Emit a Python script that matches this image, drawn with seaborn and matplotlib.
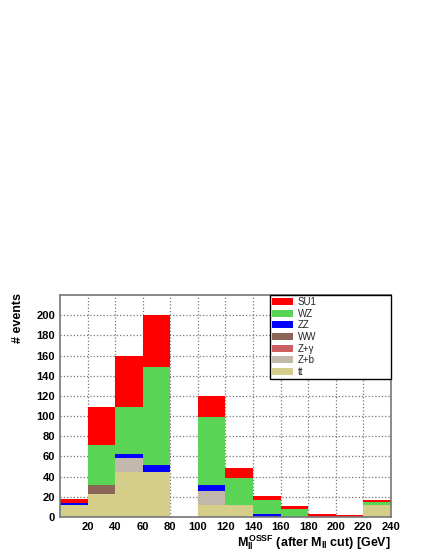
import numpy as np
import pandas as pd
import matplotlib
matplotlib.use('Agg')
import matplotlib.pyplot as plt
from matplotlib.patches import Patch
import seaborn as sns

# bin edges in M_ll (GeV), 20 GeV wide
edges = np.arange(0, 260, 20)
centres = edges[:-1] + 10

# events per bin and process
su1 = [4, 38, 50.5, 50.7, 0, 21.4, 9.5, 4, 3.3, 2.5, 1.5, 2.6]
wz = [0, 40, 47, 97, 0, 67.3, 27, 13.7, 7.5, 0, 0, 2.6]
zz = [1.5, 0, 4.5, 7, 0, 6, 0, 3, 0, 0, 0, 0]
ww = [0, 8.5, 0, 0, 0, 0, 0, 0, 0, 0, 0, 0]
zgamma = [0, 0, 0, 0, 0, 0, 0, 0, 0, 0, 0, 0]
zb = [0, 0, 13, 0, 0, 13.8, 0, 0, 0, 0, 0, 0]
tt = [12, 23, 45, 45, 0, 11.8, 11.8, 0, 0, 0, 0, 11.8]

processes = ['SU1', 'WZ', 'ZZ', 'WW', 'Z+γ', 'Z+b', 'tt']
values = [su1, wz, zz, ww, zgamma, zb, tt]
colours = ['#ff0000', '#59d454', '#0000ff', '#8b6656', '#cc6060', '#c2b8ac', '#d5cd8a']

df = pd.DataFrame({
    'mll': np.tile(centres, len(processes)).astype(float),
    'events': np.concatenate(values).astype(float),
    'process': np.repeat(processes, len(centres)),
})

sns.set_style('white')
plt.rcParams['font.family'] = ['Liberation Sans', 'DejaVu Sans']
plt.rcParams['text.color'] = 'black'
plt.rcParams['xtick.color'] = 'black'
plt.rcParams['ytick.color'] = 'black'
plt.rcParams['axes.labelcolor'] = 'black'
plt.rcParams['mathtext.fontset'] = 'custom'
plt.rcParams['mathtext.rm'] = 'Liberation Sans:bold'
plt.rcParams['mathtext.bf'] = 'Liberation Sans:bold'
plt.rcParams['mathtext.it'] = 'Liberation Sans:bold'

fig = plt.figure(figsize=(4.31, 5.57), dpi=100)
ax = fig.add_axes([60/431, 1 - 517/557, 331/431, 222/557])

sns.histplot(data=df, x='mll', weights='events', hue='process',
             hue_order=processes, palette=dict(zip(processes, colours)),
             multiple='stack', binwidth=20, binrange=(0, 240), linewidth=0,
             alpha=1, legend=False, ax=ax)

ax.set_xlim(0, 240)
ax.set_ylim(0, 220)
ax.set_xticks(np.arange(20, 241, 20))
ax.set_yticks(np.arange(0, 201, 20))
ax.set_xticks(np.arange(0, 241, 4), minor=True)
ax.set_yticks(np.arange(0, 221, 4), minor=True)
ax.set_axisbelow(True)
ax.grid(True, which='major', color='#777777', linestyle=':', linewidth=0.9)
ax.tick_params(which='both', direction='in', labelsize=8, width=0.8, color='#333333')
ax.tick_params(which='major', length=6)
ax.tick_params(which='minor', length=3)
for lab in ax.get_xticklabels() + ax.get_yticklabels():
    lab.set_fontweight('bold')
for sp in ax.spines.values():
    sp.set_color('#777777')
    sp.set_linewidth(1.2)

ax.set_ylabel('')
ax.set_xlabel(r'$M_{ll}^{OSSF}$ (after $M_{ll}$ cut) [GeV]', fontsize=9,
              fontweight='bold', loc='right', labelpad=1)
fig.text(18/431, 1 - 293/557, '# events', rotation=90, ha='center', va='top',
         fontsize=9, fontweight='bold')

handles = [Patch(facecolor=c, edgecolor='none') for c in colours]
leg = ax.legend(handles, processes, loc='upper left',
                bbox_to_anchor=(0.634, 0, 0.366, 1), mode='expand',
                borderaxespad=0, fancybox=False, framealpha=1, edgecolor='black',
                fontsize=7, handlelength=2.2, handleheight=0.75, labelspacing=0.17,
                borderpad=0.2, handletextpad=0.5)
leg.get_frame().set_linewidth(1.0)
for t in leg.get_texts():
    t.set_color('#222222')

fig.savefig('out.png', dpi=100)
